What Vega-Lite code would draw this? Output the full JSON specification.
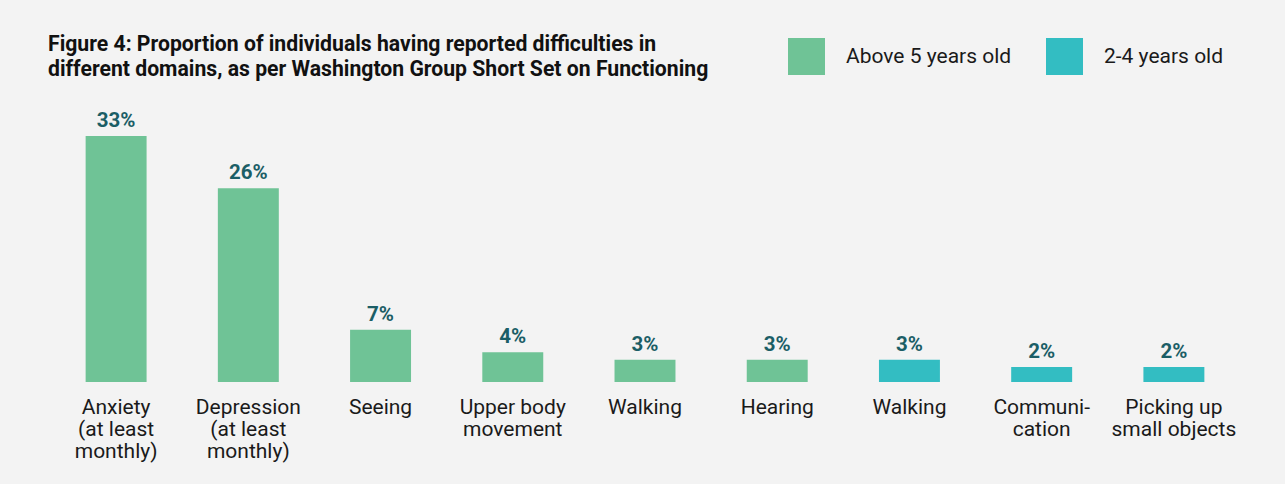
{
  "$schema": "https://vega.github.io/schema/vega-lite/v6.json",
  "autosize": {"type": "none"},
  "width": 1190,
  "height": 246,
  "padding": {"left": 50, "top": 136, "right": 45, "bottom": 102},
  "background": "#f3f3f3",
  "config": {
    "font": "Roboto",
    "view": {"stroke": null}
  },
  "title": {
    "text": ["Figure 4: Proportion of individuals having reported difficulties in", "different domains, as per Washington Group Short Set on Functioning"],
    "anchor": "start",
    "fontSize": 21.2,
    "fontWeight": "bold",
    "color": "#111111",
    "lineHeight": 25.6,
    "baseline": "alphabetic",
    "dx": -2,
    "offset": 0,
    "dy": 59.7
  },
  "data": {
    "values": [
      {"domain": "Anxiety|(at least|monthly)", "value": 0.33, "group": "Above 5 years old"},
      {"domain": "Depression|(at least|monthly)", "value": 0.26, "group": "Above 5 years old"},
      {"domain": "Seeing", "value": 0.07, "group": "Above 5 years old"},
      {"domain": "Upper body|movement", "value": 0.04, "group": "Above 5 years old"},
      {"domain": "Walking", "value": 0.03, "group": "Above 5 years old"},
      {"domain": "Hearing", "value": 0.03, "group": "Above 5 years old"},
      {"domain": "Walking ", "value": 0.03, "group": "2-4 years old"},
      {"domain": "Communi-|cation", "value": 0.02, "group": "2-4 years old"},
      {"domain": "Picking up|small objects", "value": 0.02, "group": "2-4 years old"}
    ]
  },
  "encoding": {
    "x": {
      "field": "domain",
      "type": "nominal",
      "sort": null,
      "scale": {"paddingInner": 0.539, "paddingOuter": 0.2695},
      "axis": {
        "title": null,
        "domain": false,
        "ticks": false,
        "labelAngle": 0,
        "labelExpr": "split(datum.label, '|')",
        "labelFontSize": 21,
        "labelLineHeight": 22.3,
        "labelColor": "#1a1a1a",
        "labelPadding": 14
      }
    },
    "y": {
      "field": "value",
      "type": "quantitative",
      "scale": {"domain": [0, 0.33], "nice": false, "zero": true},
      "axis": null
    }
  },
  "layer": [
    {
      "mark": {"type": "bar"},
      "encoding": {
        "color": {
          "field": "group",
          "type": "nominal",
          "scale": {"domain": ["Above 5 years old", "2-4 years old"], "range": ["#6fc396", "#33bdc2"]},
          "legend": {
            "title": null,
            "orient": "none",
            "direction": "horizontal",
            "legendX": 738,
            "legendY": -98,
            "symbolType": "square",
            "symbolSize": 1369,
            "symbolStrokeWidth": 0,
            "symbolOpacity": 1,
            "labelFontSize": 21,
            "labelColor": "#1a1a1a",
            "labelOffset": 21,
            "labelLimit": 400,
            "columnPadding": 34
          }
        }
      }
    },
    {
      "mark": {"type": "text", "baseline": "alphabetic", "dy": -9, "fontSize": 20.5, "fontWeight": "bold", "color": "#1b5e66"},
      "encoding": {
        "text": {"field": "value", "type": "quantitative", "format": ".0%"}
      }
    }
  ]
}
